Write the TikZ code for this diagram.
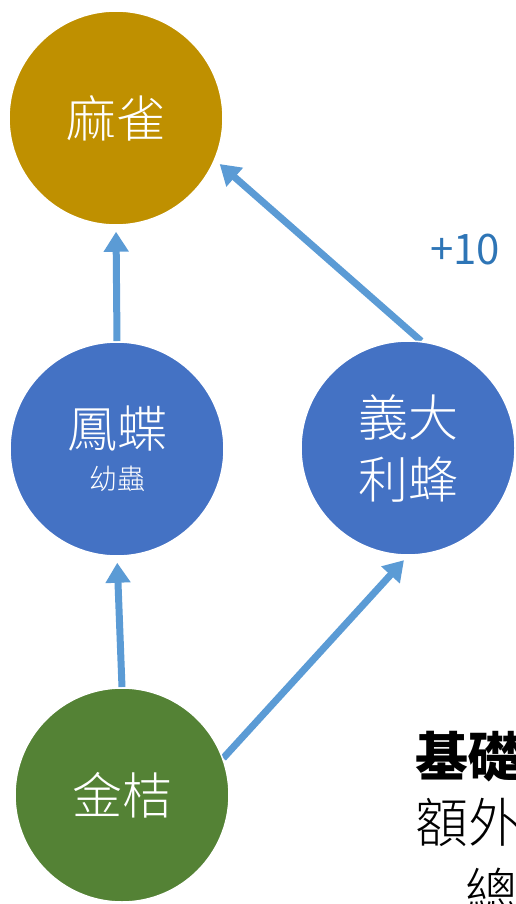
\documentclass[tikz,border=0pt]{standalone}
\usepackage{fontspec}
\setmainfont{Noto Sans CJK TC}
\newfontfamily\thincjk{Noto Sans CJK TC Light}
\usetikzlibrary{arrows.meta,backgrounds}

\definecolor{sparrowgold}{HTML}{BF9000}
\definecolor{insectblue}{HTML}{4472C4}
\definecolor{kumquatgreen}{HTML}{548235}
\definecolor{linkblue}{HTML}{5B9BD5}
\definecolor{scoreblue}{HTML}{2E75B6}

\tikzset{
  species/.style={circle, minimum size=214pt, inner sep=0pt, draw=white,
    line width=1.5pt, text=white, align=center,
    font=\thincjk\fontsize{50}{62}\selectfont},
  eats/.style={linkblue, line width=7pt, shorten >=6pt,
    -{Triangle[width=24pt,length=20pt]}},
  sidetext/.style={anchor=west, inner sep=0pt, text=black,
    font=\thincjk\fontsize{53}{60}\selectfont},
}

\begin{document}
\begin{tikzpicture}[x=1pt,y=-1pt]
\useasboundingbox (0,0) rectangle (515,904);

% Food chain members
\node[species, fill=sparrowgold] (que) at (116,118) {麻雀};
\node[species, fill=insectblue] (fengdie) at (117,449)
  {鳳蝶\\[-20pt]{\fontsize{28}{34}\selectfont 幼蟲}};
\node[species, fill=insectblue] (yidali) at (408,448) {義大\\利蜂};
\node[species, fill=kumquatgreen] (jinju) at (122,795) {金桔};

% Who eats whom
\begin{scope}[on background layer]
  \draw[eats] (fengdie.north) -- (que.south);
  \draw[eats] (yidali.83) -- (que.-23);
  \draw[eats] (jinju.north) -- (fengdie.south);
  \draw[eats] (jinju.20) -- (yidali.south);
\end{scope}

% Bonus points
\node[text=scoreblue, font=\fontsize{42}{50}\selectfont] (bonus) at (465,250) {+10};

% Scoring notes
\node[sidetext, font=\fontsize{53}{60}\bfseries] (basic) at (415,757) {基礎};
\node[sidetext] (extra) at (415,822) {額外};
\node[sidetext] (total) at (465,892) {總};

\end{tikzpicture}
\end{document}
